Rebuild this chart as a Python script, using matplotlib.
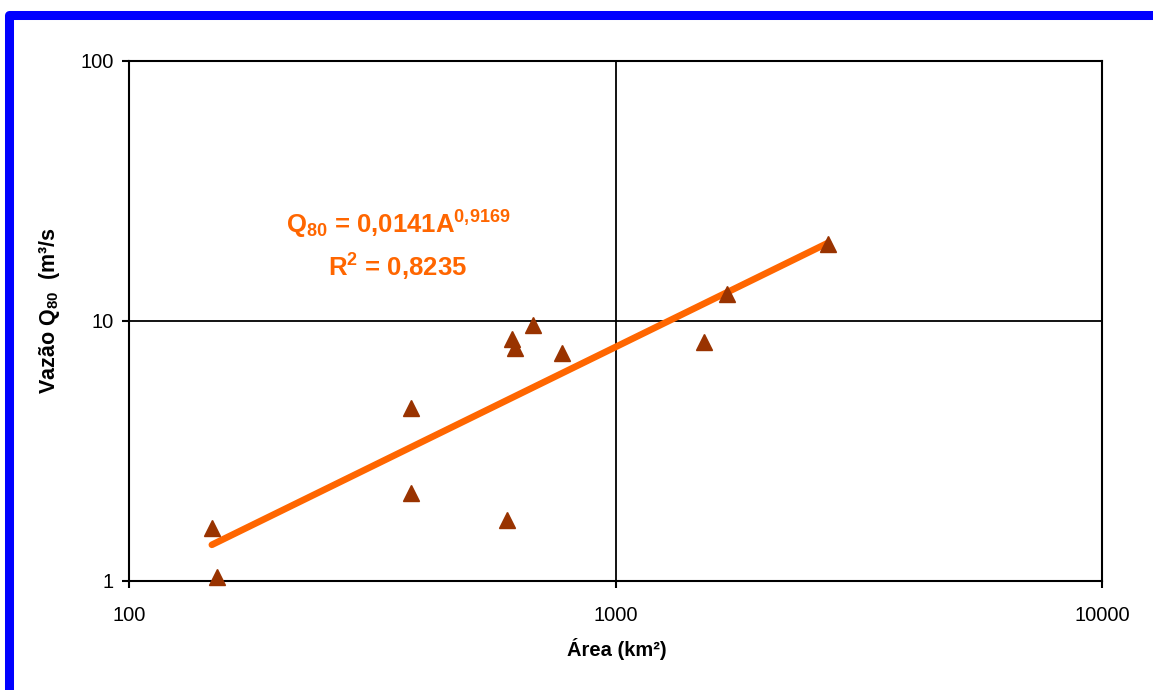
import matplotlib
matplotlib.use('AGG')
import matplotlib.pyplot as plt
from matplotlib.lines import Line2D
import numpy as np

# area (km2) and Q80 (m3/s)
area = [148, 152, 380, 380, 598, 613, 622, 677, 776, 1520, 1695, 2734]
q80 = [1.60, 1.04, 4.63, 2.18, 1.72, 8.53, 7.87, 9.65, 7.53, 8.30, 12.7, 19.8]

# power trendline printed on the chart
coef_a = 0.0141
coef_b = 0.9169
r2 = '0,8235'

plt.rcParams['font.family'] = ['Liberation Sans', 'DejaVu Sans']
plt.rcParams['mathtext.fontset'] = 'custom'
plt.rcParams['mathtext.rm'] = 'Liberation Sans:bold'
plt.rcParams['mathtext.it'] = 'Liberation Sans:bold'
plt.rcParams['mathtext.bf'] = 'Liberation Sans:bold'

fig = plt.figure(figsize=(11.53, 6.9), dpi=100)
ax = fig.add_axes([0.1119, 0.158, 0.8439, 0.7536])

# trendline
xt = np.geomspace(min(area), max(area), 200)
ax.plot(xt, coef_a * xt ** coef_b, color='#FF6600', lw=4.8, solid_capstyle='round', zorder=2)

ax.plot(area, q80, linestyle='none', marker='^', markersize=11,
        color='#993300', zorder=3, clip_on=False)

ax.set_xscale('log')
ax.set_yscale('log')
ax.set_xlim(100, 10000)
ax.set_ylim(1, 100)
ax.set_xticks([100, 1000, 10000])
ax.set_xticklabels(['100', '1000', '10000'])
ax.set_yticks([1, 10, 100])
ax.set_yticklabels(['1', '10', '100'])
ax.minorticks_off()
ax.tick_params(axis='x', length=5, width=1.5, pad=13, labelsize=14.5)
ax.tick_params(axis='y', length=5, width=1.5, pad=6, labelsize=14.5)
ax.grid(True, which='major', color='black', lw=1.3)
for s in ax.spines.values():
    s.set_linewidth(1.5)
    s.set_color('black')

ax.set_xlabel('Área (km²)', fontsize=14.5, fontweight='bold')
ax.xaxis.label.set_va('center')
ax.xaxis.set_label_coords(0.5016, -0.131)
ax.set_ylabel(r'Vazão Q$_{80}$  (m³/s', fontsize=15.5, fontweight='bold')
ax.yaxis.label.set_va('center')
ax.yaxis.set_label_coords(-0.0815, 0.521)

ax.text(0.2765, 0.685, r'Q$_{80}$ = 0,0141A$^{0{,}9169}$', transform=ax.transAxes,
        ha='center', va='center', fontsize=18.5, fontweight='bold', color='#FF6600')
ax.text(0.2754, 0.603, r'R$^{2}$ = ' + r2, transform=ax.transAxes,
        ha='center', va='center', fontsize=18.5, fontweight='bold', color='#FF6600')

# blue frame on top and left
fig.add_artist(Line2D([9 / 1153, 9 / 1153, 1.0], [0.0, 1 - 14.5 / 690, 1 - 14.5 / 690],
                      transform=fig.transFigure, color='#0000FF', lw=6.5,
                      solid_joinstyle='round'))

plt.savefig('out.png', dpi=100)
plt.close('all')
